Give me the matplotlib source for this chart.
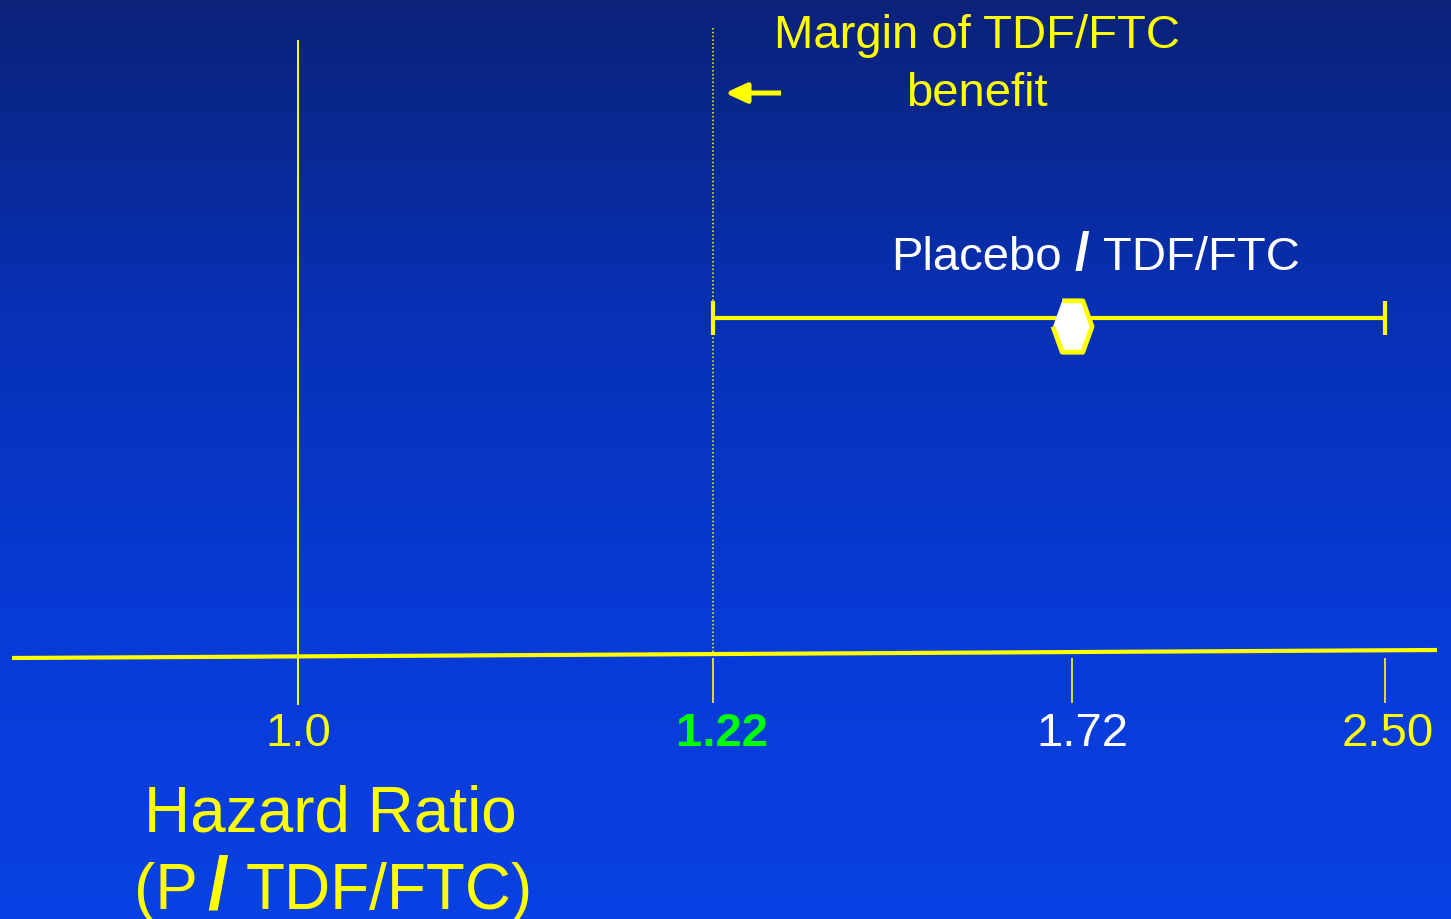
import numpy as np
import matplotlib
matplotlib.use("Agg")
import matplotlib.pyplot as plt
from matplotlib.colors import LinearSegmentedColormap
from matplotlib.transforms import ScaledTranslation

plt.rcParams['font.family'] = ['Liberation Sans', 'DejaVu Sans']

# data
tick_values = [1.0, 1.22, 1.72, 2.50]
tick_labels = ['1.0', '1.22', '1.72', '2.50']
tick_colors = ['#ffff00', '#00ff00', '#ffffff', '#ffff00']
tick_weights = ['normal', 'bold', 'normal', 'normal']
null_value = 1.0
margin_value = 1.22
hr_point = 1.72
ci_low = 1.22
ci_high = 2.50

# schematic (non-linear) axis: where each tick value sits across the slide, in pixels
tick_pixels = [298, 713, 1072, 1385]
label_nudge = [0, 9, 10, 3]
W, H = 1451, 919


def _ext(v, p):
    v = np.asarray(v, float)
    p = np.asarray(p, float)
    s0 = (p[1] - p[0]) / (v[1] - v[0])
    s1 = (p[-1] - p[-2]) / (v[-1] - v[-2])
    v2 = np.r_[v[0] - 100, v, v[-1] + 100]
    p2 = np.r_[p[0] - 100 * s0, p, p[-1] + 100 * s1]
    return v2, p2


ext_v, ext_p = _ext(tick_values, tick_pixels)


def forward(x):
    return np.interp(x, ext_v, ext_p)


def inverse(x):
    return np.interp(x, ext_p, ext_v)


fig = plt.figure(figsize=(W / 100, H / 100), dpi=100)
ax = fig.add_axes([0, 0, 1, 1])
ax.set_xscale('function', functions=(forward, inverse))
x0, x1 = inverse(0), inverse(W)
ax.set_xlim(x0, x1)
ax.set_ylim(H, 0)
ax.axis('off')


def shift(px):
    return ax.transData + ScaledTranslation(px / 100, 0, fig.dpi_scale_trans)


# background gradient
bg = LinearSegmentedColormap.from_list('bg', ['#0b2279', '#0730b4', '#073bd6', '#0a41e4'])
grad = np.linspace(0, 1, 256).reshape(-1, 1)
ax.imshow(grad, cmap=bg, aspect='auto', extent=(x0, x1, H, 0), zorder=0)

yellow = '#ffff00'

# slanted x axis line
ax.plot([inverse(12), inverse(1437)], [658, 650], color=yellow, lw=3, solid_capstyle='butt', zorder=3)

# null line at 1.0
ax.vlines(null_value, 40, 705, color=yellow, lw=1.4, zorder=2)
# margin dotted line
ax.vlines(margin_value, 28, 655, color=yellow, lw=1.1, linestyles=(0, (1, 1.5)), zorder=2)

# ticks below the axis
for v in tick_values[1:]:
    ax.vlines(v, 658, 703, color=yellow, lw=1.2, zorder=2)

# tick labels
for v, lab, c, w, n in zip(tick_values, tick_labels, tick_colors, tick_weights, label_nudge):
    ax.text(v, 746, lab, color=c, fontsize=34, fontweight=w, ha='center', va='baseline',
            transform=shift(n), zorder=4)

# confidence interval
ax.errorbar(hr_point, 318, xerr=[[hr_point - ci_low], [ci_high - hr_point]], fmt='none',
            ecolor=yellow, elinewidth=3, capsize=12, capthick=3, zorder=3)
hexagon = [(-0.40, 1), (0.40, 1), (0.76, 0), (0.40, -1), (-0.40, -1), (-0.76, 0)]
ax.plot(hr_point, 326, marker=hexagon, markersize=37, markerfacecolor='white',
        markeredgecolor=yellow, markeredgewidth=3.5, zorder=5)

# labels
ax.text(hr_point, 270, 'Placebo', color='white', fontsize=34, ha='right', va='baseline', transform=shift(-10))
ax.text(hr_point, 270, '/', color='white', fontsize=38, fontweight='bold', ha='center', va='baseline',
        transform=shift(10))
ax.text(hr_point, 270, 'TDF/FTC', color='white', fontsize=34, ha='left', va='baseline', transform=shift(31))

ax.text(inverse(977), 48, 'Margin of TDF/FTC', color=yellow, fontsize=34, ha='center', va='baseline')
ax.text(inverse(977), 106, 'benefit', color=yellow, fontsize=34, ha='center', va='baseline')
ax.annotate('', xy=(inverse(725), 93), xytext=(inverse(781), 93),
            arrowprops=dict(arrowstyle='-|>,head_length=0.65,head_width=0.3',
                            color=yellow, lw=3.6, mutation_scale=20, shrinkA=0, shrinkB=0,
                            capstyle='butt'))

# axis title
ax.text(inverse(330), 831, 'Hazard Ratio', color=yellow, fontsize=46, ha='center', va='baseline')
ax.text(inverse(198), 909, '(P', color=yellow, fontsize=46, ha='right', va='baseline')
ax.text(inverse(218), 909, '/', color=yellow, fontsize=54, fontweight='bold', ha='center', va='baseline')
ax.text(inverse(246), 909, 'TDF/FTC)', color=yellow, fontsize=46, ha='left', va='baseline')

fig.savefig('out.png', dpi=100)
